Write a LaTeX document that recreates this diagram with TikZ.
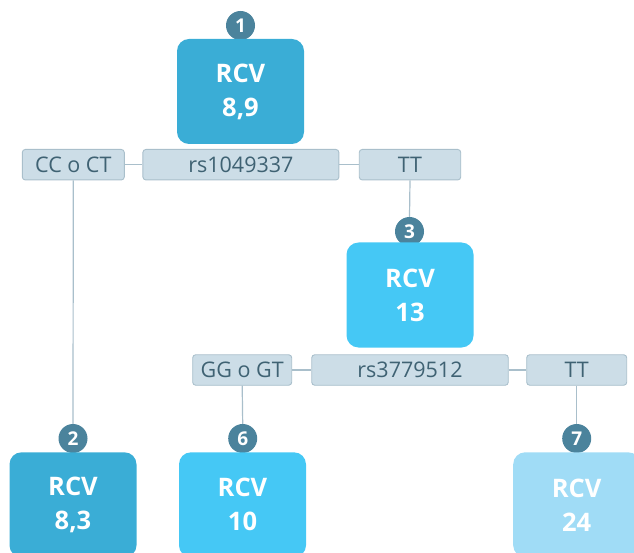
\documentclass[tikz,border=0pt]{standalone}
\usepackage{fontspec}
\setmainfont{Open Sans}
\definecolor{rcvdark}{HTML}{3AADD6}
\definecolor{rcvmid}{HTML}{45C8F5}
\definecolor{rcvlight}{HTML}{A0DCF6}
\definecolor{badge}{HTML}{4B839C}
\definecolor{tagfill}{HTML}{CCDDE7}
\definecolor{tagline}{HTML}{A9BFCB}
\definecolor{tagtext}{HTML}{3F6273}
\tikzset{
  rcvbox/.style={rounded corners=12pt, minimum width=127pt, minimum height=105pt,
    text=white, font=\fontsize{25.5}{34}\selectfont\bfseries, align=center, inner sep=0pt},
  badgenode/.style={circle, fill=badge, minimum size=29pt, inner sep=0pt,
    text=white, font=\fontsize{19}{19}\selectfont\bfseries},
  tag/.style={draw=tagline, fill=tagfill, line width=0.9pt, rounded corners=3pt,
    minimum height=30.5pt, inner sep=0pt, text=tagtext, font=\fontsize{21.5}{21.5}\selectfont},
  link/.style={draw=tagline, line width=1.2pt}
}
\begin{document}
\begin{tikzpicture}[x=1pt, y=-1pt]
\useasboundingbox (0,0) rectangle (634,553);
\clip (0,0) rectangle (634,553);

% numbered badges (drawn first so boxes sit over their lower edge)
\node[badgenode] (b1) at (240.5,25.5) {1};
\node[badgenode] (b3) at (409.5,231.5) {3};
\node[badgenode] (b2) at (73,438.5) {2};
\node[badgenode] (b6) at (242.7,438.5) {6};
\node[badgenode] (b7) at (576.7,438.5) {7};

% result boxes
\node[rcvbox, fill=rcvdark] (r1) at (240.5,91.5) {RCV\\8,9};
\node[rcvbox, fill=rcvmid] (r3) at (410,295) {RCV\\13};
\node[rcvbox, fill=rcvdark] (r2) at (73,504.8) {RCV\\8,3};
\node[rcvbox, fill=rcvmid] (r6) at (242.5,504.8) {RCV\\10};
\node[rcvbox, fill=rcvlight] (r7) at (576.7,504.8) {RCV\\24};

% first split: rs1049337
\node[tag, minimum width=102pt] (g1a) at (73.3,164.7) {CC o CT};
\node[tag, minimum width=196pt] (s1) at (240.9,164.7) {rs1049337};
\node[tag, minimum width=101.5pt] (g1b) at (410,164.7) {TT};

% second split: rs3779512
\node[tag, minimum width=99pt] (g2a) at (242.2,370) {GG o GT};
\node[tag, minimum width=196.5pt] (s2) at (410,370) {rs3779512};
\node[tag, minimum width=100pt] (g2b) at (576.7,370) {TT};

% connectors
\draw[link] (g1a.east) -- (s1.west);
\draw[link] (s1.east) -- (g1b.west);
\draw[link] (g2a.east) -- (s2.west);
\draw[link] (s2.east) -- (g2b.west);
\draw[link] (g1a.south) -- (b2.north);
\draw[link] (g1b.south) -- (b3.north);
\draw[link] (g2a.south) -- (b6.north);
\draw[link] (g2b.south) -- (b7.north);
\end{tikzpicture}
\end{document}
